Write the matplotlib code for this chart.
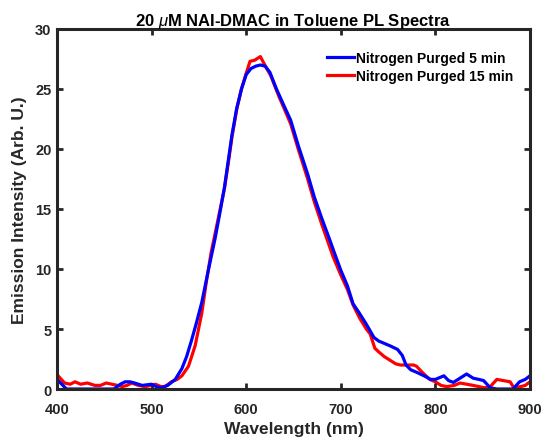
import matplotlib
matplotlib.use("Agg")
import matplotlib.pyplot as plt

plt.rcParams['font.family'] = ['Liberation Sans', 'DejaVu Sans']
plt.rcParams['mathtext.fontset'] = 'custom'
plt.rcParams['mathtext.it'] = 'Liberation Sans:italic'
plt.rcParams['mathtext.rm'] = 'Liberation Sans:bold'

wl_5 = [400, 405, 410, 420, 430, 440, 450, 460, 467, 472, 477, 482, 490, 500, 505, 510,
        517, 525, 532, 537, 542, 547, 553, 560, 567, 572, 577, 581, 585, 590, 595, 600,
        605, 610, 615, 620, 625, 632, 640, 647, 655, 665, 672, 680, 688, 693, 700, 707,
        713, 719, 727, 735, 740, 746, 752, 760, 765, 769, 774, 780, 788, 795, 800, 809,
        814, 819, 826, 833, 840, 846, 851, 858, 865, 875, 882, 889, 895, 900]
int_5 = [0.8, 0.4, 0.0, 0.0, 0.0, 0.0, 0.0, 0.0, 0.4, 0.6, 0.6, 0.5, 0.3, 0.4, 0.2, 0.1,
         0.3, 0.8, 1.7, 2.7, 4.0, 5.4, 7.2, 9.9, 12.5, 14.6, 16.8, 19.0, 21.2, 23.4, 25.0, 26.2,
         26.7, 26.9, 27.0, 26.9, 26.4, 25.0, 23.6, 22.4, 20.3, 17.9, 16.0, 14.2, 12.5, 11.4, 9.9, 8.6,
         7.1, 6.4, 5.4, 4.3, 4.0, 3.8, 3.6, 3.3, 2.8, 2.0, 1.6, 1.4, 1.1, 0.8,
         0.8, 1.1, 0.7, 0.55, 0.9, 1.25, 0.9, 0.8, 0.7, 0.1, 0.0, 0.0, 0.0, 0.6, 0.8, 1.1]

wl_15 = [400, 408, 414, 419, 425, 432, 440, 446, 452, 458, 464, 469, 474, 479, 486, 493,
         500, 504, 510, 514, 521, 527, 532, 539, 546, 553, 558, 563, 567, 572, 577, 581,
         585, 590, 595, 600, 604, 609, 615, 619, 626, 635, 640, 647, 655, 665, 672, 680,
         684, 692, 700, 707, 713, 720, 727, 731, 736, 740, 746, 752, 758, 763, 770, 777,
         780, 786, 794, 800, 806, 812, 820, 826, 833, 840, 846, 852, 858, 865, 872, 879,
         883, 890, 895, 900]
int_15 = [1.2, 0.5, 0.4, 0.6, 0.4, 0.5, 0.3, 0.3, 0.5, 0.4, 0.3, 0.2, 0.3, 0.5, 0.3, 0.2,
          0.3, 0.4, 0.2, 0.2, 0.6, 0.8, 1.1, 1.9, 3.6, 6.3, 9.0, 11.4, 12.9, 14.8, 16.7, 18.8,
          21.0, 23.3, 25.0, 26.3, 27.3, 27.4, 27.7, 27.1, 26.1, 24.3, 23.4, 22.1, 20.0, 17.5, 15.6, 13.7,
          12.8, 11.0, 9.5, 8.3, 7.0, 5.9, 5.0, 4.6, 3.4, 3.1, 2.7, 2.4, 2.1, 2.0, 2.0, 2.0,
          1.9, 1.4, 0.8, 0.6, 0.3, 0.2, 0.3, 0.5, 0.4, 0.3, 0.2, 0.1, 0.2, 0.8, 0.7, 0.6,
          0.1, 0.2, 0.3, 0.6]

labels = ['Nitrogen Purged 5 min', 'Nitrogen Purged 15 min']
xticks = [400, 500, 600, 700, 800, 900]
yticks = [0, 5, 10, 15, 20, 25, 30]

fig = plt.figure(figsize=(5.43, 4.39), dpi=100)
ax = fig.add_axes([0.105, 0.1116, 0.871, 0.8201])

l15, = ax.plot(wl_15, int_15, color='#ff0000', lw=2.3, label=labels[1], zorder=1.5)
l5, = ax.plot(wl_5, int_5, color='#0000ff', lw=2.3, label=labels[0], zorder=1.6)

ax.set_xlim(400, 900)
ax.set_ylim(0, 30)
ax.set_xticks(xticks)
ax.set_yticks(yticks)
ax.tick_params(direction='in', length=4, width=2, top=True, right=True,
               labelsize=10.5, colors='#262626', labelcolor='#262626')
ax.tick_params(axis='x', pad=9)
ax.tick_params(axis='y', pad=4)
for lab in ax.get_xticklabels() + ax.get_yticklabels():
    lab.set_fontweight('bold')
for s in ax.spines.values():
    s.set_linewidth(2.2)
    s.set_color('#262626')
    s.set_zorder(3)

ax.set_xlabel('Wavelength (nm)', fontsize=12.5, fontweight='bold', color='#262626')
ax.xaxis.label.set_va('center')
ax.xaxis.set_label_coords(0.5, -0.111)
ax.set_ylabel('Emission Intensity (Arb. U.)', fontsize=12.5, fontweight='bold', color='#262626')
ax.yaxis.label.set_va('center')
ax.yaxis.label.set_ha('center')
ax.yaxis.set_label_coords(-0.080, 0.5)

fig.text(0.5405, (439 - 21.5) / 439, r'20 $\mu$M NAI-DMAC in Toluene PL Spectra',
         fontsize=12, fontweight='bold', ha='center', va='center', color='black')

leg = ax.legend([l5, l15], labels, loc='upper right', frameon=False,
                prop={'weight': 'bold', 'size': 10}, handlelength=1.9, handletextpad=0.2,
                labelspacing=0.3, borderaxespad=0.0, bbox_to_anchor=(0.977, 0.9556))

fig.savefig('out.png', dpi=100)
